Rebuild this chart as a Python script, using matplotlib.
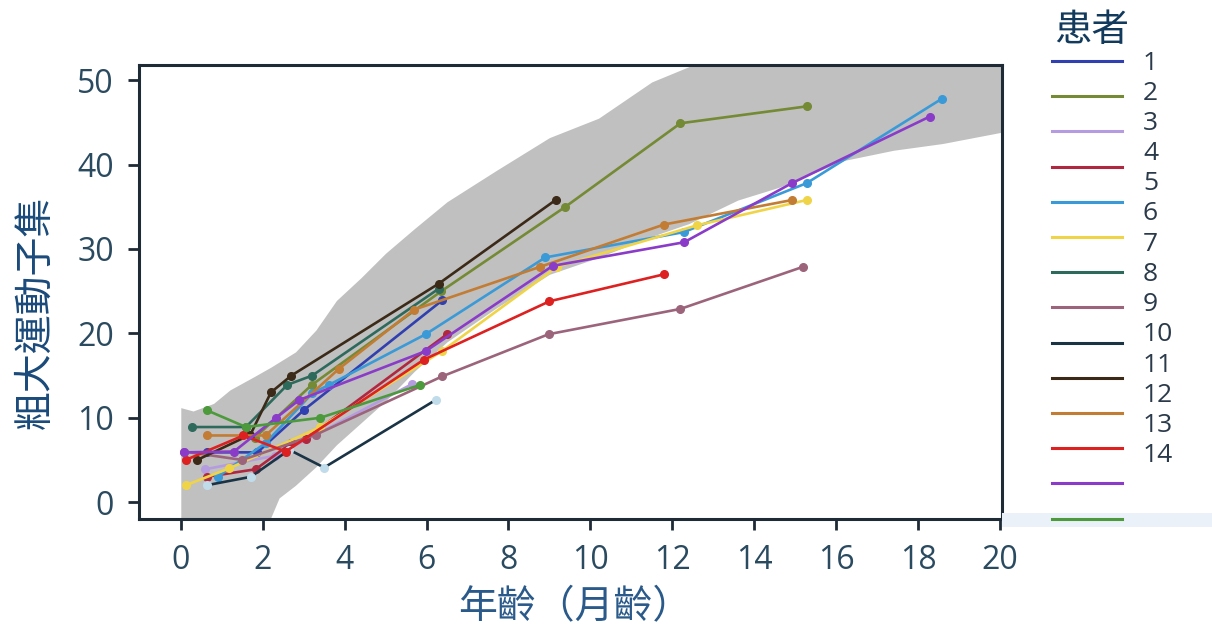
import numpy as np
import matplotlib
matplotlib.use('Agg')
import matplotlib.pyplot as plt
from matplotlib.lines import Line2D
from matplotlib.patches import Rectangle

plt.rcParams['font.family'] = ['Open Sans', 'Noto Sans CJK TC', 'DejaVu Sans']

# 参考区间(灰色带)
band_x = [0, 0.3, 0.8, 1.2, 1.8, 2.2, 2.4, 2.8, 3.3, 3.8, 4.4, 5.0, 5.7, 6.5, 7.7,
          9.0, 10.2, 11.5, 12.4, 13.6, 14.6, 16.2, 17.4, 18.6, 20.0, 20.5]
band_lo = [-5, -5, -5, -5, -3, -1.8, 0.5, 2.0, 4.2, 6.8, 9.4, 12.0, 15.5, 19.0, 23.0,
           27.0, 29.0, 31.5, 33.0, 35.8, 37.3, 40.5, 41.7, 42.5, 43.8, 44.2]
band_hi = [11.2, 10.8, 11.7, 13.3, 14.9, 16.0, 16.6, 17.8, 20.4, 23.9, 26.6, 29.5, 32.4,
           35.6, 39.3, 43.2, 45.5, 49.8, 51.6, 54, 54, 54, 54, 54, 54, 54]

# 各患者数据 (月龄, 分数)
p1_x = [0.63, 1.87, 3.0, 6.38]
p1_y = [5.9, 5.9, 10.9, 23.9]
p2_x = [1.8, 3.2, 6.36, 9.39, 12.2, 15.28]
p2_y = [7.6, 13.9, 25.0, 35.0, 44.9, 46.9]
p3_x = [0.6, 2.3, 3.3, 5.65]
p3_y = [3.9, 5.5, 8.0, 14.0]
p4_x = [0.63, 1.83, 2.7, 3.05, 6.5]
p4_y = [3.0, 3.9, 7.0, 7.5, 19.9]
p5_x = [0.9, 2.07, 3.21, 3.62, 5.98, 8.9, 12.28, 15.28, 18.58]
p5_y = [3.0, 7.0, 12.9, 13.9, 19.9, 29.0, 32.0, 37.8, 47.8]
p6_x = [0.12, 1.18, 3.41, 6.38, 9.19, 12.6, 15.28]
p6_y = [2.0, 4.0, 8.9, 17.9, 27.9, 32.8, 35.8]
p7_x = [0.28, 1.59, 2.6, 3.21, 6.3]
p7_y = [8.9, 8.9, 13.9, 15.0, 25.3]
p8_x = [0.08, 1.5, 3.3, 6.38, 8.98, 12.2, 15.2]
p8_y = [6.0, 5.0, 8.0, 14.9, 19.9, 22.9, 27.9]
p9_x = [0.63, 1.71, 2.65, 3.5, 6.22]
p9_y = [2.0, 3.0, 6.2, 4.1, 12.1]
p10_x = [0.4, 1.7, 2.2, 2.7, 6.3, 9.15]
p10_y = [5.0, 8.0, 13.0, 15.0, 25.9, 35.8]
p11_x = [0.63, 2.07, 3.86, 5.69, 8.78, 11.8, 14.92]
p11_y = [7.9, 7.9, 15.8, 22.8, 27.9, 32.9, 35.8]
p12_x = [0.12, 1.53, 2.56, 5.94, 9.0, 11.8]
p12_y = [5.0, 7.9, 6.0, 16.9, 23.8, 27.0]
p13_x = [0.08, 1.3, 2.33, 2.89, 5.98, 9.08, 12.29, 14.92, 18.29]
p13_y = [5.9, 6.0, 10.0, 12.1, 17.9, 28.0, 30.8, 37.8, 45.7]
p14_x = [0.63, 1.59, 3.41, 5.85]
p14_y = [10.9, 8.9, 10.0, 13.9]

patients_x = [p1_x, p2_x, p3_x, p4_x, p5_x, p6_x, p7_x, p8_x, p9_x, p10_x, p11_x, p12_x, p13_x, p14_x]
patients_y = [p1_y, p2_y, p3_y, p4_y, p5_y, p6_y, p7_y, p8_y, p9_y, p10_y, p11_y, p12_y, p13_y, p14_y]
colors = ['#3040b0', '#748a34', '#b59ce0', '#b02840', '#3a9ad8', '#f0d448', '#2e6a5c',
          '#9c647a', '#1a3446', '#3c2a18', '#c27c34', '#dd2020', '#8a3cc8', '#4c9a3c']
labels = [str(i) for i in range(1, 15)]

fig = plt.figure(figsize=(12.12, 6.26), dpi=100)
ax = fig.add_axes([0.1147, 0.1709, 0.712, 0.7252])

ax.fill_between(band_x, band_lo, band_hi, color='#c0c0c0', lw=0, zorder=1)

for i in range(14):
    mfc = '#c0dcea' if i == 8 else colors[i]
    ax.plot(patients_x[i], patients_y[i], color=colors[i], lw=1.9, marker='o',
            ms=5.5, mfc=mfc, mec=mfc, zorder=3 + i * 0.01)

ax.set_xlim(-1.02, 20.05)
ax.set_ylim(-2.0, 51.8)
ax.set_xticks(range(0, 21, 2))
ax.set_yticks(range(0, 51, 10))
for s in ['left', 'bottom', 'top', 'right']:
    ax.spines[s].set_color('#1e2a36')
    ax.spines[s].set_linewidth(2.2)
ax.tick_params(axis='both', direction='out', length=8, width=2, color='#1e2a36',
               labelsize=23, labelcolor='#2a4a60', pad=10)

ax.set_xlabel('年齡（月齡）', fontsize=28, color='#2a5a8a',
              family=['Noto Sans CJK TC', 'DejaVu Sans'])
ax.set_ylabel('粗大運動子集', fontsize=28, color='#1a4a7a',
              family=['Noto Sans CJK TC', 'DejaVu Sans'])
ax.xaxis.set_label_coords(0.505, -0.15)
ax.yaxis.set_label_coords(-0.097, 0.456)

# 右侧图例(手工绘制)
W, H = 1212, 626
fig.add_artist(Rectangle((1002 / W, 1 - 527 / H), 210 / W, 14 / H,
                         transform=fig.transFigure, color='#eaf1f8', lw=0))
fig.text(1092 / W, 1 - 30 / H, '患者', fontsize=27, color='#123a5c', ha='center', va='center',
         family=['Noto Sans CJK TC', 'DejaVu Sans'])
for i in range(14):
    yl = 1 - (61 + i * 35.2) / H
    fig.add_artist(Line2D([1052 / W, 1122 / W], [yl, yl], transform=fig.transFigure,
                          color=colors[i], lw=2.2))
    fig.text(1143 / W, 1 - (63 + i * 30.2) / H, labels[i], fontsize=19,
             color='#2a3a4a', ha='left', va='center')

fig.savefig('out.png', dpi=100)
